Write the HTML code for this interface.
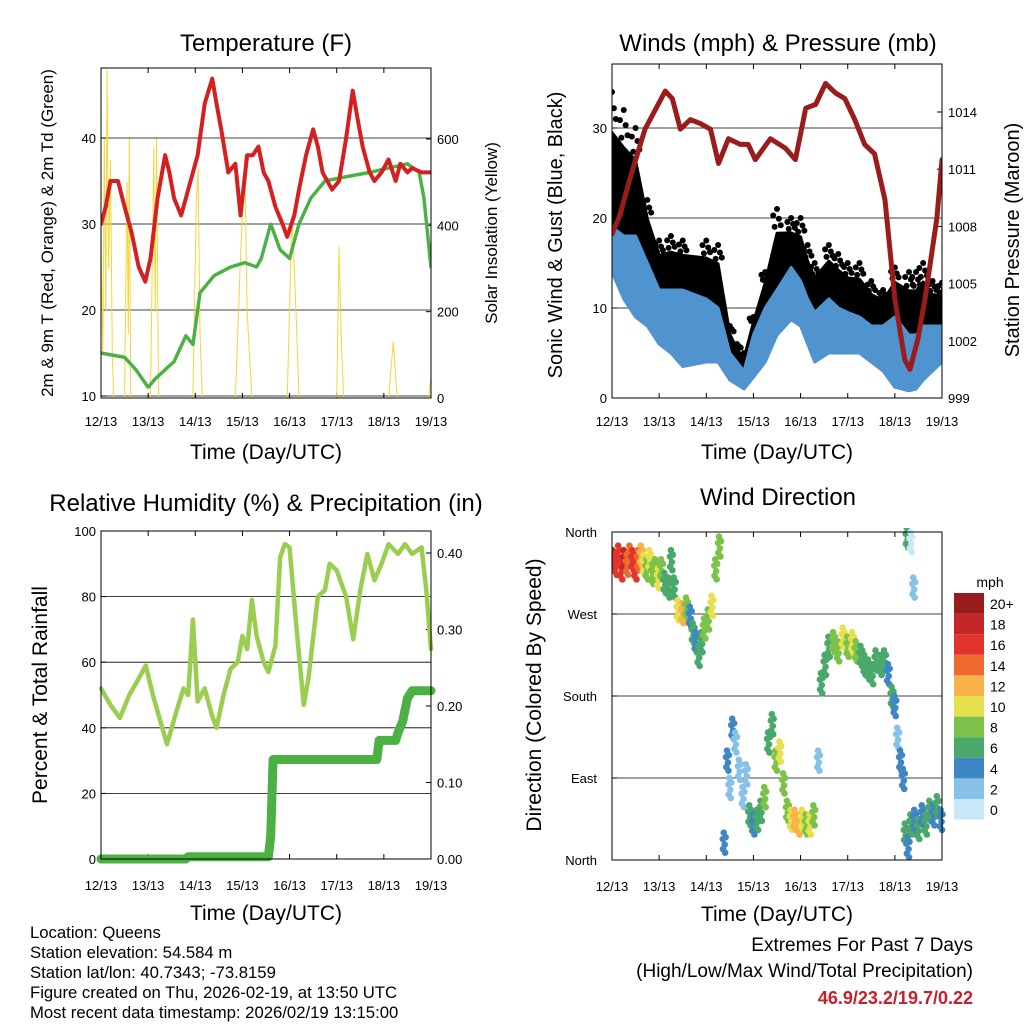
<!DOCTYPE html>
<html><head><meta charset="utf-8"><style>
body{margin:0;background:#fff;font-family:"Liberation Sans",Arial,sans-serif}
svg text{font-family:"Liberation Sans",Arial,sans-serif}
</style></head><body>
<svg id="s" width="1024" height="1024" viewBox="0 0 1024 1024" xmlns="http://www.w3.org/2000/svg">
<rect width="1024" height="1024" fill="#fff"/>
</svg>
<script>
// ---------- DATA ----------
const dayLabels=["12/13","13/13","14/13","15/13","16/13","17/13","18/13","19/13"];
const tempT=[0,0.1,0.2,0.36,0.5,0.65,0.8,0.94,1.05,1.2,1.36,1.45,1.55,1.7,1.85,2.05,2.2,2.36,2.45,2.55,2.7,2.85,2.96,3.1,3.22,3.34,3.45,3.55,3.7,3.85,3.95,4.1,4.2,4.35,4.5,4.6,4.7,4.9,5.05,5.2,5.34,5.45,5.55,5.7,5.8,5.95,6.1,6.25,6.35,6.5,6.6,6.8,7.0];
const tempRed=[30,32,35,35,32,29,25,23.3,26,33,38,36,33,31,34,38,44,46.9,44,41,36,37,31,38,38,39,36,35,32,30,28.5,31,34,38,41,39,36,34,35,40,45.5,42,39,36,35,36,37.5,35,37,36,36.5,36,36];
const dewT=[0,0.5,0.75,1.0,1.15,1.35,1.55,1.8,1.95,2.1,2.4,2.75,3.05,3.3,3.4,3.6,3.8,4.0,4.2,4.45,4.75,5.2,5.7,6.1,6.5,6.75,6.85,7.0];
const dewG=[15,14.5,13,11,12,13,14,17,16,22,24,25,25.5,25,26,30,27,26,30,33,35,35.5,36,36.5,37,36,33,25];
const solarT=[0,0.04,0.07,0.1,0.13,0.16,0.2,0.24,0.27,0.5,0.55,0.58,0.6,0.63,1.05,1.12,1.15,1.18,1.22,1.95,2.02,2.06,2.1,2.15,2.85,2.95,3.05,3.1,3.2,3.95,4.05,4.12,4.2,5.0,5.05,5.1,5.15,6.1,6.2,6.28,6.95,7.0];
const solarV=[350,100,600,200,760,300,550,100,0,0,500,150,600,0,0,580,200,600,0,0,450,530,150,0,0,300,560,200,0,0,420,250,0,0,350,120,0,0,130,0,0,50];
const presT=[0,0.17,0.38,0.7,1.13,1.28,1.45,1.66,1.87,2.09,2.26,2.47,2.72,2.89,3.04,3.36,3.68,3.89,4.11,4.32,4.53,4.74,4.94,5.15,5.36,5.57,5.79,6.0,6.21,6.32,6.49,6.64,6.89,7.0];
const presV=[1007.6,1008.6,1010.5,1013.1,1015.1,1014.7,1013.1,1013.6,1013.4,1013.1,1011.3,1012.6,1012.3,1012.3,1011.5,1012.6,1012.1,1011.5,1014.2,1014.4,1015.5,1015.0,1014.7,1013.6,1012.3,1011.8,1009.4,1004.2,1001.0,1000.5,1002.1,1004.2,1008.4,1011.5];
const windT=[0,0.25,0.5,0.75,1,1.25,1.5,2,2.25,2.5,2.65,2.8,3,3.25,3.5,3.8,4,4.15,4.3,4.6,4.8,5,5.25,5.5,5.75,6,6.3,6.45,6.6,6.8,7];
const windGust=[34,32,30,22,17.5,18,17.5,17.5,17,8,6,5,9,14,21,20,20,17,15,17,16,15,15,13,12,14.5,14,14,15,13,12.8];
const windHi=[19,18,18,15,12,12,12,11,10,5,4,3,7,10,12,14.5,13,11,9.5,11,10,9.5,9,8,8,9,7,7,8,8,8];
const windLo=[14,11,9,8,6,5,3.5,4,4,2,1.5,1,2.3,4,7,8.7,8,6,4,5,5,5,5,4,3,1.2,0.8,1,2,3,4];
const rhT=[0,0.2,0.4,0.6,0.8,0.95,1.1,1.3,1.4,1.6,1.75,1.85,1.95,2.05,2.2,2.35,2.45,2.6,2.75,2.9,3.0,3.1,3.2,3.3,3.45,3.55,3.7,3.8,3.9,4.0,4.15,4.3,4.4,4.6,4.75,4.85,5.0,5.2,5.35,5.5,5.65,5.8,5.95,6.1,6.3,6.45,6.6,6.8,6.9,7.0];
const rhV=[52,47,43,50,55,59,50,40,35,45,52,50,73,48,52,44,40,50,58,60,68,64,79,68,60,57,65,92,96,95,70,47,55,80,82,90,88,80,67,82,93,85,90,96,93,96,93,95,82,64];
const prT=[0,1.8,1.85,3.55,3.6,3.65,5.85,5.9,6.25,6.3,6.4,6.5,6.6,7.0];
const prV=[0,0,0.003,0.003,0.03,0.13,0.13,0.155,0.155,0.165,0.18,0.21,0.22,0.22];
const dirT=[0.02,0.08,0.14,0.2,0.26,0.32,0.38,0.44,0.5,0.56,0.62,0.68,0.74,0.8,0.86,0.92,0.98,1.05,1.12,1.2,1.26,1.32,1.4,1.5,1.58,1.66,1.72,1.78,1.84,1.9,1.96,2.04,2.12,2.2,2.28,2.38,2.45,2.5,2.56,2.62,2.7,2.78,2.85,2.92,3.0,3.08,3.16,3.24,3.32,3.4,3.48,3.56,3.64,3.72,3.8,3.88,3.96,4.04,4.12,4.2,4.28,4.38,4.44,4.52,4.6,4.7,4.8,4.9,5.0,5.1,5.18,5.28,5.36,5.44,5.52,5.6,5.7,5.78,5.86,5.94,6.0,6.06,6.12,6.18,6.22,6.28,6.34,6.42,6.5,6.58,6.66,6.74,6.82,6.9,6.98,6.26,6.34,6.4];
const dirV=[330,325,335,320,330,325,335,330,320,330,335,325,320,330,315,320,310,320,305,300,330,300,275,272,278,268,250,240,225,240,255,265,280,320,345,20,110,80,145,130,100,70,95,50,40,45,55,70,130,150,110,120,85,55,45,45,40,45,40,40,50,110,195,215,235,240,230,245,235,240,230,225,215,210,205,220,215,220,205,180,170,135,110,90,30,15,40,45,35,50,40,55,50,60,45,355,350,300];
const dirS=[18,16,17,16,18,15,14,16,17,14,13,10,9,10,9,8,10,8,7,6,7,6,10,12,8,4,6,5,6,7,8,9,10,9,8,4,4,3,4,3,2,2,3,6,5,6,7,8,7,7,9,10,8,8,11,13,12,10,9,10,9,3,6,6,7,8,9,10,9,10,8,7,6,7,6,7,6,6,5,7,4,3,4,4,6,5,6,5,6,5,6,7,5,6,5,7,1,2];
const cbLabels=["20+","18","16","14","12","10","8","6","4","2","0"];
const cbColors=["#981b1e","#c3272a","#e1342c","#ef6a2e","#f7b24a","#e6e04e","#7cc24a","#4aa86a","#3f86c4","#87c1e8","#c8e8f8"];
// ---------- HELPERS ----------
const NS="http://www.w3.org/2000/svg",S=document.getElementById('s');
function el(t,a,p){const e=document.createElementNS(NS,t);for(const k in a)e.setAttribute(k,a[k]);(p||S).appendChild(e);return e;}
function txt(x,y,s,sz,o,p){const e=el('text',Object.assign({x:x,y:y,'font-size':sz,fill:'#000'},o||{}),p);e.textContent=s;return e;}
function lin(d0,d1,r0,r1){return v=>r0+(v-d0)/(d1-d0)*(r1-r0);}
function colorFor(s){let i=Math.min(10,Math.max(0,Math.floor(s/2)));return cbColors[10-i];}
function panel(name,x0,x1,y0,y1,title,ty,tx,tickOff){
  const g=el('g',{});
  const t=txt(tx,ty,title,24,{'text-anchor':'middle'},g);
  const X=lin(0,7,x0,x1);
  dayLabels.forEach((l,i)=>{const x=X(i);
    el('line',{x1:x,x2:x,y1:y1,y2:y1-5,stroke:'#000'},g);
    el('line',{x1:x,x2:x,y1:y0,y2:y0+5,stroke:'#000'},g);
    const tt=txt(x,y1+tickOff,l,13,{'text-anchor':'middle'},g);});
  const xl=txt((x0+x1)/2,y1+61,'Time (Day/UTC)',21,{'text-anchor':'middle'},g);
  return {g,X};
}
function frame(g,x0,x1,y0,y1){const r=el('rect',{x:x0,y:y0,width:x1-x0,height:y1-y0,fill:'none',stroke:'#000','stroke-width':1},g);}
function yticks(g,Y,vals,fmt,x0,x1,side,grid){vals.forEach(v=>{const y=Y(v);
  if(grid)el('line',{x1:x0,x2:x1,y1:y,y2:y,stroke:'#000','stroke-width':0.8},g);
  if(side==='l'){el('line',{x1:x0,x2:x0+5,y1:y,y2:y,stroke:'#000'},g);const t=txt(x0-5,y+5,fmt(v),13,{'text-anchor':'end'},g);}
  else {el('line',{x1:x1,x2:x1-5,y1:y,y2:y,stroke:'#000'},g);const t=txt(x1+6,y+5,fmt(v),13,{},g);}});}
function ylabel(g,x,y,s,sz,name){const t=txt(x,y,s,sz,{'text-anchor':'middle',transform:`rotate(-90 ${x} ${y})`},g);}
function poly(g,T,V,X,Y,c,w,name,extra){const p=el('polyline',Object.assign({points:T.map((t,i)=>X(t)+','+Y(V[i])).join(' '),fill:'none',stroke:c,'stroke-width':w,'stroke-linejoin':'round','stroke-linecap':'round'},extra||{}),g);return p;}
function band(g,T,lo,hi,X,Y,c,name){const pts=T.map((t,i)=>X(t)+','+Y(hi[i])).concat(T.map((t,i)=>X(t)+','+Y(lo[i])).reverse());const p=el('polygon',{points:pts.join(' '),fill:c,stroke:c,'stroke-width':3,'stroke-linejoin':'round'},g);return p;}

// ---------- PANEL 1: Temperature ----------
(function(){const x0=101,x1=431,y0=68,y1=398;
 const {g,X}=panel('temperature-panel',x0,x1,y0,y1,'Temperature (F)',51,266,28);
 const Y=lin(10,40,396,138),Ys=lin(0,600,398,139);
 yticks(g,Y,[10,20,30,40],v=>v,x0,x1,'l',true);
 yticks(g,Ys,[0,200,400,600],v=>v,x0,x1,'r',false);
 const cp=el('clipPath',{id:'c1'},g);el('rect',{x:x0,y:y0,width:x1-x0,height:y1-y0},cp);
 const dg=el('g',{'clip-path':'url(#c1)'},g);
 poly(dg,solarT,solarV,X,Ys,'#f5d63a',1,'solar-line');
 poly(dg,dewT,dewG,X,Y,'#4cb045',3.5,'dewpoint-line',{'stroke-dasharray':'2 1.5'});
 poly(dg,tempT,tempRed,X,Y,'#d42020',4,'temperature-line');
 frame(g,x0,x1,y0,y1);
 ylabel(g,53,233,'2m & 9m T (Red, Orange) & 2m Td (Green)',17,'y-axis-title');
 ylabel(g,497,233,'Solar Insolation (Yellow)',17,'y2-axis-title');
})();
// ---------- PANEL 2: Winds ----------
(function(){const x0=612,x1=942,y0=64,y1=398;
 const {g,X}=panel('winds-panel',x0,x1,y0,y1,'Winds (mph) & Pressure (mb)',51,778,28);
 const Y=lin(0,30,398,128),Yp=lin(999,1014,398,112);
 yticks(g,Y,[0,10,20,30],v=>v,x0,x1,'l',true);
 yticks(g,Yp,[999,1002,1005,1008,1011,1014],v=>v,x0,x1,'r',false);
 const cp=el('clipPath',{id:'c2'},g);el('rect',{x:x0,y:y0,width:x1-x0,height:y1-y0},cp);
 const dg=el('g',{'clip-path':'url(#c2)'},g);
 band(dg,windT,windHi.map(v=>v-1),windT.map((t,i)=>windHi[i]+0.7*(windGust[i]-windHi[i])),X,Y,'#000','gust-band');
 const fr=[[-0.05,0.78],[0.04,0.88],[0,1.0],[-0.08,0.92],[0.08,0.8]];
 windT.forEach((t,i)=>{fr.forEach(o=>{const v=windHi[i]+o[1]*(windGust[i]-windHi[i]);const c=el('circle',{cx:X(t+o[0]),cy:Y(v),r:3,fill:'#000'},dg);});});
 band(dg,windT,windLo,windHi,X,Y,'#4f93cf','wind-speed-band');
 poly(dg,presT,presV,X,Yp,'#9b1c1c',5,'pressure-line');
 frame(g,x0,x1,y0,y1);
 ylabel(g,562,235,'Sonic Wind & Gust (Blue, Black)',20,'y-axis-title');
 ylabel(g,1019,240,'Station Pressure (Maroon)',20,'y2-axis-title');
})();
// ---------- PANEL 3: RH & Precip ----------
(function(){const x0=101,x1=431,y0=531,y1=859;
 const {g,X}=panel('humidity-panel',x0,x1,y0,y1,'Relative Humidity (%) & Precipitation (in)',511,266,31);
 const Y=lin(0,100,859,531),Yp=lin(0,0.4,859,553);
 yticks(g,Y,[0,20,40,60,80,100],v=>v,x0,x1,'l',true);
 yticks(g,Yp,[0,0.1,0.2,0.3,0.4],v=>v.toFixed(2),x0,x1,'r',false);
 poly(g,rhT,rhV,X,Y,'#9bcd50',4.5,'humidity-line');
 poly(g,prT,prV,X,Yp,'#4cb045',9,'precip-line');
 frame(g,x0,x1,y0,y1);
 ylabel(g,47,695,'Percent & Total Rainfall',21,'y-axis-title');
})();
// ---------- PANEL 4: Wind direction ----------
(function(){const x0=612,x1=942,y0=532,y1=860;
 const {g,X}=panel('wind-direction-panel',x0,x1,y0,y1,'Wind Direction',505,778,31);
 const Y=lin(0,360,860,532);
 const names=['North','East','South','West','North'];
 [0,90,180,270,360].forEach((v,i)=>{const y=Y(v);el('line',{x1:x0,x2:x1,y1:y,y2:y,stroke:'#000','stroke-width':0.8},g);el('line',{x1:x0,x2:x0+5,y1:y,y2:y,stroke:'#000'},g);const t=txt(x0-15,y+5,names[i],13,{'text-anchor':'end'},g);});
 const cp=el('clipPath',{id:'c4'},g);el('rect',{x:x0,y:y0-4,width:x1-x0+4,height:y1-y0+8},cp);
 const dg=el('g',{'clip-path':'url(#c4)'},g);
 const offs=[[-0.025,-8],[0.01,-3],[0.03,5],[-0.01,10],[0.02,-12],[-0.03,3]];
 dirT.forEach((t,i)=>{offs.forEach(o=>{const c=el('circle',{cx:X(t+o[0]),cy:Y(dirV[i]+o[1]),r:3.3,fill:colorFor(dirS[i])},dg);});});
 frame(g,x0,x1,y0,y1);
 ylabel(g,541,695,'Direction (Colored By Speed)',21,'y-axis-title');
 const lg=el('g',{},g);
 txt(990,587,'mph',14,{'text-anchor':'middle'},lg);
 cbLabels.forEach((l,i)=>{const y=593+i*20.6;const r=el('rect',{x:954,y:y,width:30,height:20.6,fill:cbColors[i]},lg);const t=txt(990,y+16,l,14,{},lg);});
})();
// ---------- Footer ----------
const ft=el('g',{});
["Location: Queens","Station elevation: 54.584 m","Station lat/lon: 40.7343; -73.8159","Figure created on Thu, 2026-02-19, at 13:50 UTC","Most recent data timestamp: 2026/02/19 13:15:00"].forEach((s,i)=>txt(30,938+i*20,s,16.7,{},ft));
const ex=el('g',{});
txt(973,951,'Extremes For Past 7 Days',19,{'text-anchor':'end'},ex);
txt(973,977,'(High/Low/Max Wind/Total Precipitation)',19,{'text-anchor':'end'},ex);
txt(973,1004,'46.9/23.2/19.7/0.22',18,{'text-anchor':'end',fill:'#c8202a','font-weight':'bold'},ex);
</script>
</body></html>
